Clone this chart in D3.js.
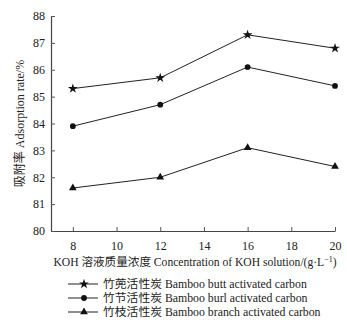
<!DOCTYPE html>
<html><head><meta charset="utf-8">
<script src="https://cdn.jsdelivr.net/npm/d3@7"></script>
<style>body{margin:0;background:#fff}svg{display:block}</style>
</head><body>
<svg id="c" width="347" height="333"></svg>
<script>
const concentrations = [8, 12, 16, 20];
const buttValues = [85.3, 85.7, 87.3, 86.8];
const burlValues = [83.9, 84.7, 86.1, 85.4];
const branchValues = [81.6, 82.0, 83.1, 82.4];
const xTicks = [8, 10, 12, 14, 16, 18, 20];
const yTicks = [80, 81, 82, 83, 84, 85, 86, 87, 88];
const seriesNames = ["竹蔸活性炭 Bamboo butt activated carbon", "竹节活性炭 Bamboo burl activated carbon", "竹枝活性炭 Bamboo branch activated carbon"];
const yTitle = "吸附率 Adsorption rate/%";

const svg = d3.select("#c");
const font = "'Liberation Serif','Noto Sans CJK SC',serif";
const x = d3.scaleLinear().domain([7, 20]).range([51, 335]);
const y = d3.scaleLinear().domain([80, 88]).range([231, 16]);
const ink = "#222";

// axes
const gx = svg.append("g").attr("transform", `translate(0,${y(80)})`)
  .call(d3.axisBottom(x).tickValues(xTicks).tickSizeInner(-4).tickSizeOuter(0).tickPadding(10));
const gy = svg.append("g").attr("transform", `translate(${x(7)},0)`)
  .call(d3.axisLeft(y).tickValues(yTicks).tickSizeInner(-4).tickSizeOuter(0).tickPadding(6));
[gx, gy].forEach(g => {
  g.select(".domain").attr("stroke", "#444").attr("stroke-width", 1.2);
  g.selectAll(".tick line").attr("stroke", "#555");
  g.selectAll("text").attr("font-family", font).attr("font-size", 12).attr("fill", "#222");
});

svg.append("text").attr("transform", `translate(24,${(y(80)+y(88))/2}) rotate(-90)`)
  .attr("text-anchor", "middle").attr("font-family", font).attr("font-size", 12).attr("fill", "#222")
  .text(yTitle);

const xt = svg.append("text").attr("x", 195).attr("y", 266).attr("text-anchor", "middle")
  .attr("font-family", font).attr("font-size", 11.6).attr("fill", "#222");
xt.append("tspan").text("KOH 溶液质量浓度 Concentration of KOH solution/(g·L");
xt.append("tspan").attr("dy", -4).attr("font-size", 8).text("−1");
xt.append("tspan").attr("dy", 4).text(")");

const symbols = [d3.symbolStar, d3.symbolCircle, d3.symbolTriangle];
const sizes = [30, 26, 26];
const allSeries = [buttValues, burlValues, branchValues];
const line = d3.line().x((d, i) => x(concentrations[i])).y(d => y(d));

allSeries.forEach((vals, s) => {
  svg.append("path").attr("d", line(vals)).attr("fill", "none").attr("stroke", ink).attr("stroke-width", 1);
  svg.selectAll(null).data(vals).enter().append("path")
    .attr("d", d3.symbol().type(symbols[s]).size(sizes[s]))
    .attr("transform", (d, i) => `translate(${x(concentrations[i])},${y(d)})`)
    .attr("fill", "#111");
});

// legend
const ly = [284, 298, 312];
seriesNames.forEach((n, s) => {
  svg.append("line").attr("x1", 68).attr("x2", 98).attr("y1", ly[s]).attr("y2", ly[s]).attr("stroke", ink).attr("stroke-width", 1);
  svg.append("path").attr("d", d3.symbol().type(symbols[s]).size(sizes[s])).attr("transform", `translate(84,${ly[s]})`).attr("fill", "#111");
  svg.append("text").attr("x", 103).attr("y", ly[s] + 4).attr("font-family", font).attr("font-size", 11.8).attr("fill", "#222").text(n);
});
</script>
</body></html>
